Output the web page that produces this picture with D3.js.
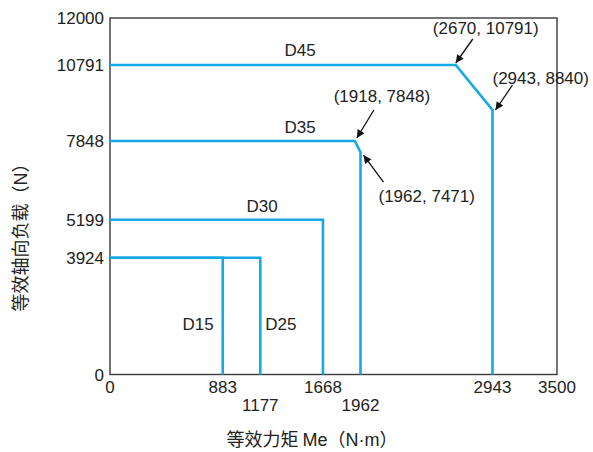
<!DOCTYPE html>
<html>
<head>
<meta charset="utf-8">
<script src="https://cdn.jsdelivr.net/npm/d3@7"></script>
<style>
  html, body { margin: 0; padding: 0; background: #fff; }
  svg text { font-family: "Liberation Sans", Arial, sans-serif; fill: #222; }
  svg .cjk { font-family: "Noto Sans CJK SC", "Noto Sans", sans-serif; }
  svg .lat { font-family: "Liberation Sans", Arial, sans-serif; }
</style>
</head>
<body>
<svg id="chart" width="593" height="452"></svg>
<script>
// Load envelopes: equivalent moment Me (N·m) vs equivalent axial load (N)
const seriesNames = ["D15", "D25", "D30", "D35", "D45"];
const d15 = [[0, 3924], [883, 3924], [883, 0]];
const d25 = [[0, 3924], [1177, 3924], [1177, 0]];
const d30 = [[0, 5199], [1668, 5199], [1668, 0]];
const d35 = [[0, 7848], [1918, 7848], [1962, 7471], [1962, 0]];
const d45 = [[0, 10791], [2670, 10791], [2943, 8840], [2943, 0]];

const xTicks = [0, 883, 1177, 1668, 1962, 2943, 3500];
const xTicksLow = [1177, 1962];            // labels set on a second row
const yTicks = [0, 3924, 5199, 7848, 10791, 12000];

// Corner points called out with arrows
const callouts = [[2670, 10791], [2943, 8840], [1918, 7848], [1962, 7471]];

// Axis titles, split into CJK and Latin runs
const xTitle = [["等效力矩 ", "cjk"], ["Me", "lat"], ["（", "cjk"], ["N·m", "lat"], ["）", "cjk"]];
const yTitle = [["等效轴向负载（", "cjk"], ["N", "lat"], ["）", "cjk"]];

const svg = d3.select("#chart");
const blue = "#14a9e6";
const fs = 17;

// The diagram is schematic: piecewise scales through the key values
const x = d3.scaleLinear()
  .domain([0, 1962, 2943, 3500])
  .range([110, 360.5, 492.5, 557]);
const y = d3.scaleLinear()
  .domain([0, 7848, 8840, 10791, 12000])
  .range([374.5, 141, 110, 65, 18]);

// frame
svg.append("rect")
  .attr("x", x(0)).attr("y", y(12000))
  .attr("width", x(3500) - x(0)).attr("height", y(0) - y(12000))
  .attr("fill", "none").attr("stroke", "#3a3a3a").attr("stroke-width", 1.4);

// envelope lines
const line = d3.line().x(d => x(d[0])).y(d => y(d[1]));
const seriesData = [d15, d25, d30, d35, d45];
svg.append("g").selectAll("path").data(seriesData).join("path")
  .attr("d", line)
  .attr("fill", "none")
  .attr("stroke", blue)
  .attr("stroke-width", 2.6)
  .attr("stroke-linejoin", "miter");

// y tick labels
svg.append("g").selectAll("text").data(yTicks).join("text")
  .attr("x", 104)
  .attr("y", d => y(d))
  .attr("dy", "0.36em")
  .attr("text-anchor", "end")
  .attr("font-size", fs)
  .text(d => d);

// x tick labels
svg.append("g").selectAll("text").data(xTicks).join("text")
  .attr("x", d => x(d))
  .attr("y", d => xTicksLow.includes(d) ? 411 : 393)
  .attr("text-anchor", "middle")
  .attr("font-size", fs)
  .text(d => d);

// series labels
const labelPlace = {
  D15: { at: d => [x(d[1][0]) - 9, y(1500)], anchor: "end" },
  D25: { at: d => [x(d[1][0]) + 5, y(1500)], anchor: "start" },
  D30: { at: d => [262, y(d[0][1]) - 8], anchor: "middle" },
  D35: { at: d => [300, y(d[0][1]) - 8], anchor: "middle" },
  D45: { at: d => [300, y(d[0][1]) - 9], anchor: "middle" }
};
seriesNames.forEach((name, i) => {
  const p = labelPlace[name];
  const [lx, ly] = p.at(seriesData[i]);
  svg.append("text")
    .attr("x", lx).attr("y", ly)
    .attr("text-anchor", p.anchor)
    .attr("font-size", fs)
    .text(name);
});

// callout arrows and coordinate labels
svg.append("defs").append("marker")
  .attr("id", "arrow")
  .attr("viewBox", "0 0 10 10")
  .attr("refX", 10).attr("refY", 5)
  .attr("markerWidth", 10).attr("markerHeight", 8)
  .attr("markerUnits", "userSpaceOnUse")
  .attr("orient", "auto")
  .append("path")
  .attr("d", "M0,0 L10,5 L0,10 Z")
  .attr("fill", "#111");

// tip offset, tail offset (from tip), text offset (from tail)
const calloutPlace = [
  { tip: [0, -2],  tail: [17, -24], text: [13, -5],  anchor: "middle" },
  { tip: [3, 0],   tail: [17, -25], text: [-20, -1], anchor: "start" },
  { tip: [2, -3],  tail: [17, -28], text: [8, -8],   anchor: "middle" },
  { tip: [3, 3],   tail: [20, 27],  text: [-5, 20],  anchor: "start" }
];
callouts.forEach((c, i) => {
  const p = calloutPlace[i];
  const tx = x(c[0]) + p.tip[0], ty = y(c[1]) + p.tip[1];
  const sx = tx + p.tail[0], sy = ty + p.tail[1];
  svg.append("line")
    .attr("x1", sx).attr("y1", sy).attr("x2", tx).attr("y2", ty)
    .attr("stroke", "#111").attr("stroke-width", 1.3)
    .attr("marker-end", "url(#arrow)");
  svg.append("text")
    .attr("x", sx + p.text[0]).attr("y", sy + p.text[1])
    .attr("text-anchor", p.anchor)
    .attr("font-size", fs)
    .text(`(${c[0]}, ${c[1]})`);
});

// axis titles
const xt = svg.append("text")
  .attr("x", 312).attr("y", 446)
  .attr("text-anchor", "middle")
  .attr("font-size", 18);
xt.selectAll("tspan").data(xTitle).join("tspan")
  .attr("class", d => d[1]).text(d => d[0]);

const yt = svg.append("text")
  .attr("transform", "translate(27,233) rotate(-90)")
  .attr("text-anchor", "middle")
  .attr("font-size", 18);
yt.selectAll("tspan").data(yTitle).join("tspan")
  .attr("class", d => d[1]).text(d => d[0]);
</script>
</body>
</html>
